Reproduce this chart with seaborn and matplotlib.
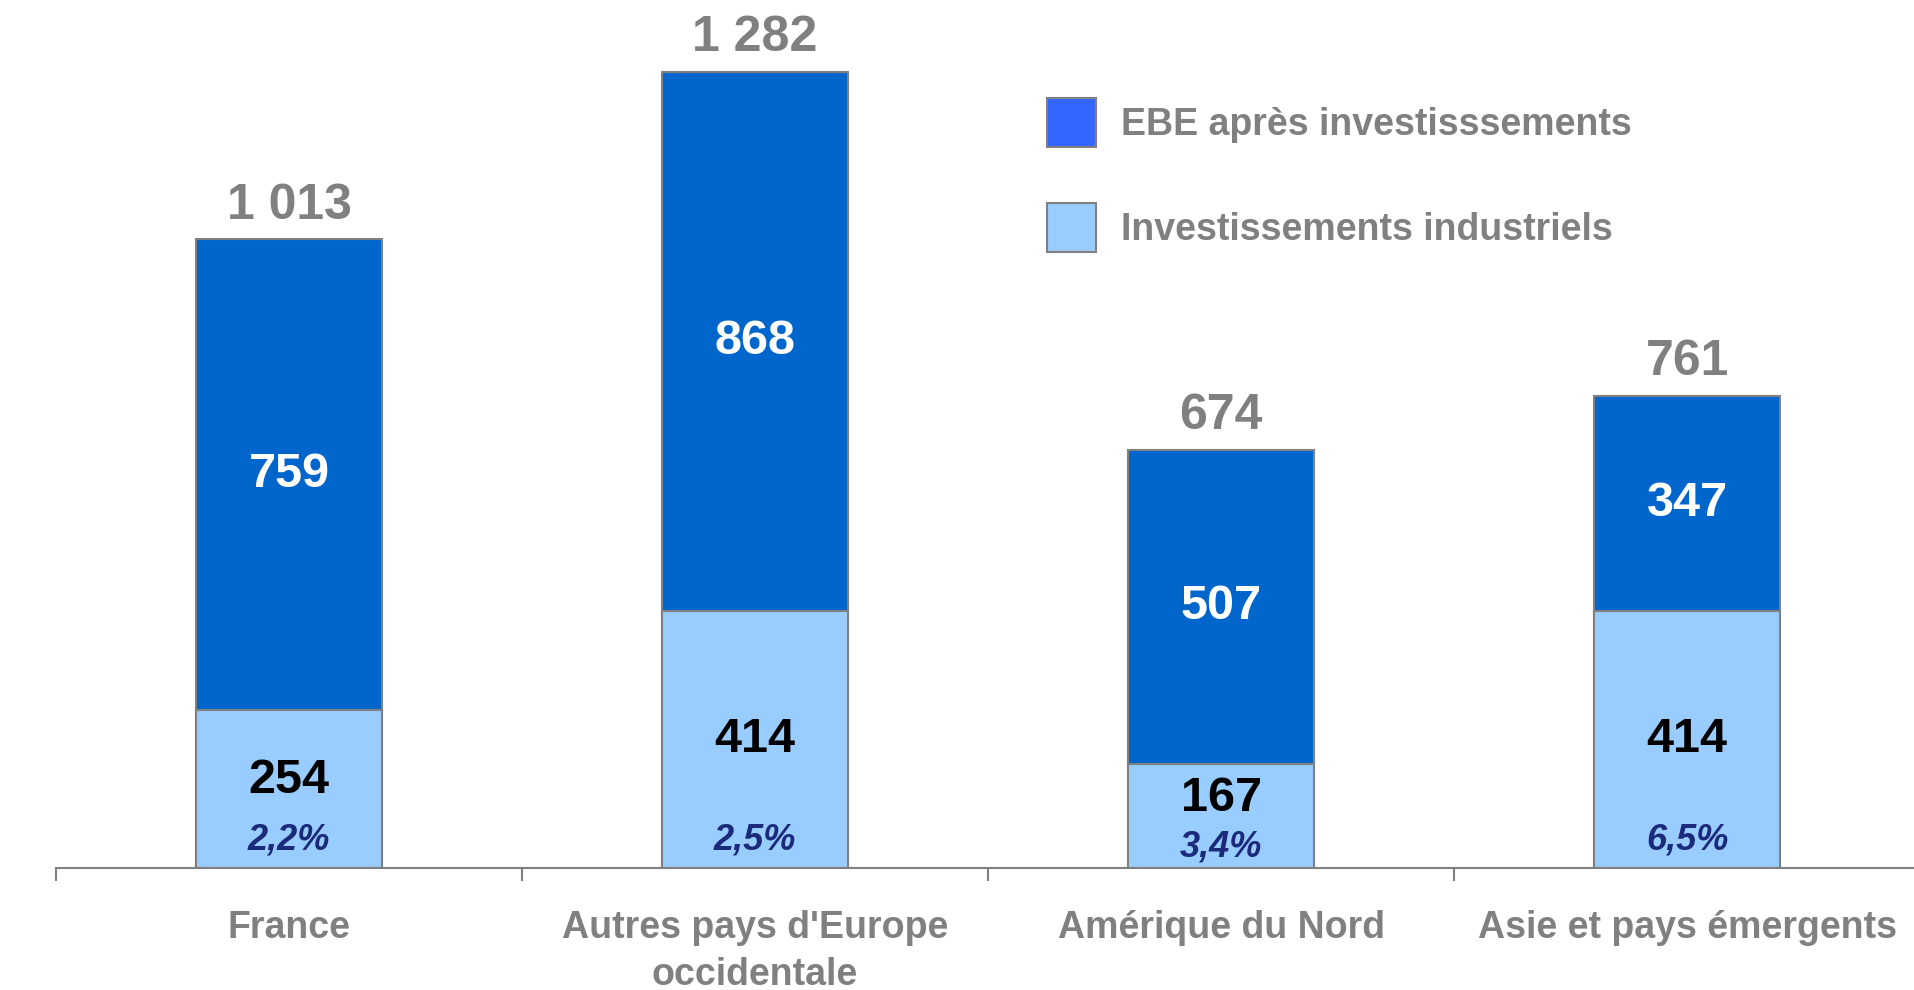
import numpy as np
import pandas as pd
import matplotlib.pyplot as plt
import seaborn as sns
from matplotlib.patches import Patch

# -----------------------------
# Data
# -----------------------------
regions = ['France', "Autres pays d'Europe\noccidentale", 'Amérique du Nord', 'Asie et pays émergents']
investissements = [254, 414, 167, 414]
ebe_apres = [759, 868, 507, 347]
totals = [1013, 1282, 674, 761]
total_labels = ['1 013', '1 282', '674', '761']
pct_labels = ['2,2%', '2,5%', '3,4%', '6,5%']

# colours
dark_blue = '#0066CC'
light_blue = '#99CCFF'
legend_blue = '#3366FF'
grey = '#808080'
navy = '#1B2A7B'

df = pd.DataFrame({'region': regions, 'invest': investissements,
                   'ebe': ebe_apres, 'total': totals})

sns.set_style('white')
plt.rcParams['font.family'] = ['Liberation Sans', 'DejaVu Sans']

fig = plt.figure(figsize=(19.14, 9.9), dpi=100)
ax = fig.add_axes([0.0293, 0.1232, 0.9739, 0.8768])

# -----------------------------
# Stacked bars (total drawn first, investments on top)
# -----------------------------
sns.barplot(data=df, x='region', y='total', color=dark_blue, saturation=1,
            width=0.4, edgecolor=grey, linewidth=1.5, ax=ax)
sns.barplot(data=df, x='region', y='invest', color=light_blue, saturation=1,
            width=0.4, edgecolor=grey, linewidth=1.5, ax=ax)

ax.set_xlim(-0.5, 3.5)
ax.set_ylim(0, 1398)

# labels
for i, row in df.iterrows():
    ax.text(i, row['total'] + 54, total_labels[i], ha='center', va='center',
            fontsize=36, fontweight='bold', color=grey)
    ax.text(i, row['invest'] + row['ebe'] / 2, str(row['ebe']), ha='center',
            va='center', fontsize=35, fontweight='bold', color='white')
    # small bars: number pushed up to leave room for the percentage
    y_inv = max(row['invest'] / 2, 112 + 0.33 * (row['invest'] - 167))
    ax.text(i, y_inv, str(row['invest']), ha='center',
            va='center', fontsize=35, fontweight='bold', color='black')
    ax.text(i, 34 if row['invest'] < 200 else 45, pct_labels[i], ha='center',
            va='center', fontsize=26, fontweight='bold', fontstyle='italic',
            color=navy)

# -----------------------------
# Axis styling
# -----------------------------
for s in ['top', 'right', 'left']:
    ax.spines[s].set_visible(False)
ax.spines['bottom'].set_color(grey)
ax.spines['bottom'].set_linewidth(1.5)
ax.set_yticks([])
ax.set_xlabel('')
ax.set_ylabel('')

ax.set_xticks(range(len(regions)))
ax.set_xticklabels(regions, fontsize=27, fontweight='bold', color=grey,
                   linespacing=1.4)
ax.tick_params(axis='x', which='major', length=0, pad=30)
ax.set_xticks(np.arange(-0.5, len(regions), 1), minor=True)
ax.tick_params(axis='x', which='minor', length=9, width=1.5, color=grey,
               direction='out', bottom=True)

# legend
handles = [Patch(facecolor=legend_blue, edgecolor=grey, linewidth=1.5,
                 label='EBE après investisssements'),
           Patch(facecolor=light_blue, edgecolor=grey, linewidth=1.5,
                 label='Investissements industriels')]
leg = fig.legend(handles=handles, loc='upper left', bbox_to_anchor=(0.547, 0.901),
                 frameon=False, borderpad=0, borderaxespad=0,
                 handlelength=1.31, handleheight=1.63,
                 handletextpad=0.67, labelspacing=1.5,
                 prop={'size': 27, 'weight': 'bold'}, labelcolor=grey)

plt.savefig('out.png', dpi=100)
